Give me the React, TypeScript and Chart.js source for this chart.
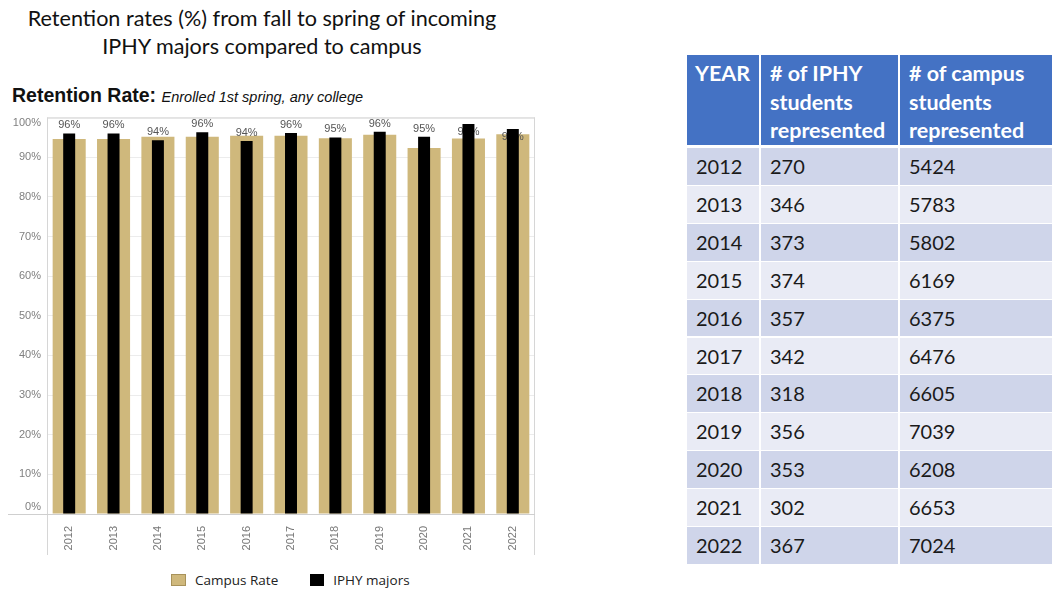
import React, { useEffect, useRef } from "react";
import { Chart, registerables } from "chart.js";

Chart.register(...registerables);

// ---- data ----
const years = ["2012", "2013", "2014", "2015", "2016", "2017", "2018", "2019", "2020", "2021", "2022"];
const campusRate = [94.6, 94.6, 95.2, 95.2, 95.4, 95.4, 94.8, 95.7, 92.3, 94.7, 95.8];
const iphyRate = [96.0, 96.0, 94.3, 96.3, 94.1, 96.1, 95.0, 96.4, 95.2, 98.4, 97.1];
const yTickStep = 10;
const yMin = 0;
const yMax = 100;
const iphyStudents = [270, 346, 373, 374, 357, 342, 318, 356, 353, 302, 367];
const campusStudents = [5424, 5783, 5802, 6169, 6375, 6476, 6605, 7039, 6208, 6653, 7024];
const tableHeaders = [["YEAR"], ["# of IPHY", "students", "represented"], ["# of campus", "students", "represented"]];
const seriesNames = ["Campus Rate", "IPHY majors"];

const GOLD = "#CFB87C";
const BLACK = "#000000";
const AXIS_FONT = "Arial, 'Liberation Sans', sans-serif";

const labelPlugin = {
  id: "frameAndLabels",
  beforeDatasetsDraw(chart: any) {
    const { ctx, chartArea } = chart;
    const { left, right, top, bottom } = chartArea;
    ctx.save();
    ctx.strokeStyle = "#d6d6d6";
    ctx.lineWidth = 1;
    ctx.beginPath();
    ctx.moveTo(left, top + 0.5);
    ctx.lineTo(right, top + 0.5);
    ctx.moveTo(left + 0.5, top);
    ctx.lineTo(left + 0.5, bottom + 41);
    ctx.moveTo(right - 0.5, top);
    ctx.lineTo(right - 0.5, bottom + 41);
    ctx.stroke();
    ctx.strokeStyle = "#cfcfcf";
    ctx.beginPath();
    ctx.moveTo(8, bottom + 0.5);
    ctx.lineTo(right, bottom + 0.5);
    ctx.stroke();
    // y tick labels (edge labels nudged inside, as in the original)
    const ys = chart.scales.y;
    ctx.font = "11px " + AXIS_FONT;
    ctx.fillStyle = "#808080";
    ctx.textAlign = "right";
    ctx.textBaseline = "middle";
    ys.ticks.forEach((t: any) => {
      let y = ys.getPixelForValue(t.value);
      if (t.value === yMin) y -= 7;
      if (t.value === yMax) y += 5;
      ctx.fillText(t.value + "%", left - 6, y);
    });
    ctx.restore();
  },
  afterDatasetDraw(chart: any, args: any) {
    // value labels drawn after the campus bars (index 1), before the IPHY bars (index 0)
    if (args.index !== 1) return;
    const { ctx, chartArea } = chart;
    const meta = chart.getDatasetMeta(0);
    ctx.save();
    ctx.font = "11px " + AXIS_FONT;
    ctx.fillStyle = "#555555";
    ctx.textAlign = "center";
    ctx.textBaseline = "middle";
    meta.data.forEach((bar: any, i: number) => {
      const y = bar.y < chartArea.top + 12 ? bar.y + 8 : bar.y - 8;
      ctx.fillText(Math.round(iphyRate[i]) + "%", bar.x, y);
    });
    ctx.restore();
  },
};

function RetentionChart() {
  const ref = useRef<HTMLCanvasElement | null>(null);
  useEffect(() => {
    if (!ref.current) return;
    const chart = new Chart(ref.current, {
      type: "bar",
      data: {
        labels: years,
        datasets: [
          {
            label: seriesNames[1],
            data: iphyRate,
            backgroundColor: BLACK,
            barPercentage: 0.27,
            categoryPercentage: 1,
            grouped: false,
          },
          {
            label: seriesNames[0],
            data: campusRate,
            backgroundColor: GOLD,
            barPercentage: 0.745,
            categoryPercentage: 1,
            grouped: false,
          },
        ],
      },
      options: {
        animation: false,
        responsive: false,
        layout: { padding: { top: 11, right: 10, left: 0, bottom: 5 } },
        plugins: {
          legend: { display: false },
          tooltip: { enabled: false },
          title: { display: false },
        },
        scales: {
          x: {
            grid: { display: false },
            border: { display: false },
            ticks: {
              minRotation: 90,
              maxRotation: 90,
              padding: 4,
              color: "#777777",
              font: { family: AXIS_FONT, size: 11 },
            },
            afterFit: (s: any) => {
              s.height = 41;
            },
          },
          y: {
            min: yMin,
            max: yMax,
            grid: { color: "#ececec", drawTicks: false },
            border: { display: false },
            ticks: {
              stepSize: yTickStep,
              padding: 6,
              color: "rgba(0,0,0,0)",
              font: { family: AXIS_FONT, size: 11 },
              callback: (v: any) => v + "%",
            },
            afterFit: (s: any) => {
              s.width = 47;
            },
          },
        },
      },
      plugins: [labelPlugin],
    });
    return () => chart.destroy();
  }, []);
  return (
    <canvas
      ref={ref}
      width={545}
      height={455}
      style={{ position: "absolute", left: 0, top: 105, width: 545, height: 455 }}
    />
  );
}

function DataTable() {
  const colX = [687, 760, 899, 1053];
  const headerTop = 55;
  const headerBottom = 145;
  const bodyTop = 148;
  const rowH = 37.9;
  const font = "Lato, 'Open Sans', sans-serif";
  const cells: any[] = [];
  tableHeaders.forEach((lines, c) => {
    cells.push(
      <div
        key={"h" + c}
        style={{
          position: "absolute",
          left: colX[c] + (c === 0 ? 0 : 1),
          top: headerTop,
          width: colX[c + 1] - colX[c] - (c === 0 ? 1 : 2),
          height: headerBottom - headerTop,
          background: "#4472C4",
          color: "#ffffff",
          fontFamily: font,
          fontWeight: 700,
          fontSize: 21.5,
          lineHeight: "28.5px",
          paddingTop: 4,
          paddingLeft: c === 0 ? 8 : 9,
          boxSizing: "border-box",
          whiteSpace: "nowrap",
        }}
      >
        {lines.map((l, k) => (
          <div key={k}>{l}</div>
        ))}
      </div>
    );
  });
  years.forEach((yr, r) => {
    const vals = [yr, String(iphyStudents[r]), String(campusStudents[r])];
    vals.forEach((v, c) => {
      cells.push(
        <div
          key={"r" + r + "c" + c}
          style={{
            position: "absolute",
            left: colX[c] + (c === 0 ? 0 : 1),
            top: bodyTop + r * rowH,
            width: colX[c + 1] - colX[c] - (c === 0 ? 1 : 2),
            height: rowH - 1,
            background: r % 2 === 0 ? "#CFD5EA" : "#E9EBF5",
            color: "#1a1a1a",
            fontFamily: font,
            fontSize: 20,
            lineHeight: rowH - 1 + "px",
            paddingLeft: 9,
            boxSizing: "border-box",
          }}
        >
          {v}
        </div>
      );
    });
  });
  return <div style={{ position: "absolute", left: 0, top: 0 }}>{cells}</div>;
}

export default function App() {
  return (
    <div
      style={{
        position: "absolute",
        left: 0,
        top: 0,
        width: 1057,
        height: 592,
        background: "#ffffff",
        overflow: "hidden",
      }}
    >
      <div
        style={{
          position: "absolute",
          left: 0,
          top: 4,
          width: 524,
          textAlign: "center",
          fontFamily: "Lato, 'Open Sans', sans-serif",
          fontSize: 21.6,
          lineHeight: "28px",
          color: "#111111",
          whiteSpace: "nowrap",
        }}
      >
        <div>Retention rates (%) from fall to spring of incoming</div>
        <div>IPHY majors compared to campus</div>
      </div>
      <div
        style={{
          position: "absolute",
          left: 12,
          top: 84,
          whiteSpace: "nowrap",
          fontFamily: AXIS_FONT,
          color: "#111111",
        }}
      >
        <span style={{ fontWeight: 700, fontSize: 19.5 }}>Retention Rate: </span>
        <span style={{ fontStyle: "italic", fontSize: 14.5 }}>Enrolled 1st spring, any college</span>
      </div>
      <RetentionChart />
      <div
        style={{
          position: "absolute",
          left: 171,
          top: 571,
          display: "flex",
          alignItems: "center",
          fontFamily: "'Open Sans', sans-serif",
          fontSize: 13.5,
          color: "#222222",
          whiteSpace: "nowrap",
        }}
      >
        <span
          style={{
            display: "inline-block",
            width: 15,
            height: 12,
            background: GOLD,
            border: "1px solid #a8925a",
            boxSizing: "border-box",
          }}
        />
        <span style={{ marginLeft: 9 }}>{seriesNames[0]}</span>
        <span style={{ display: "inline-block", width: 14, height: 12, background: BLACK, marginLeft: 32 }} />
        <span style={{ marginLeft: 9 }}>{seriesNames[1]}</span>
      </div>
      <DataTable />
    </div>
  );
}
